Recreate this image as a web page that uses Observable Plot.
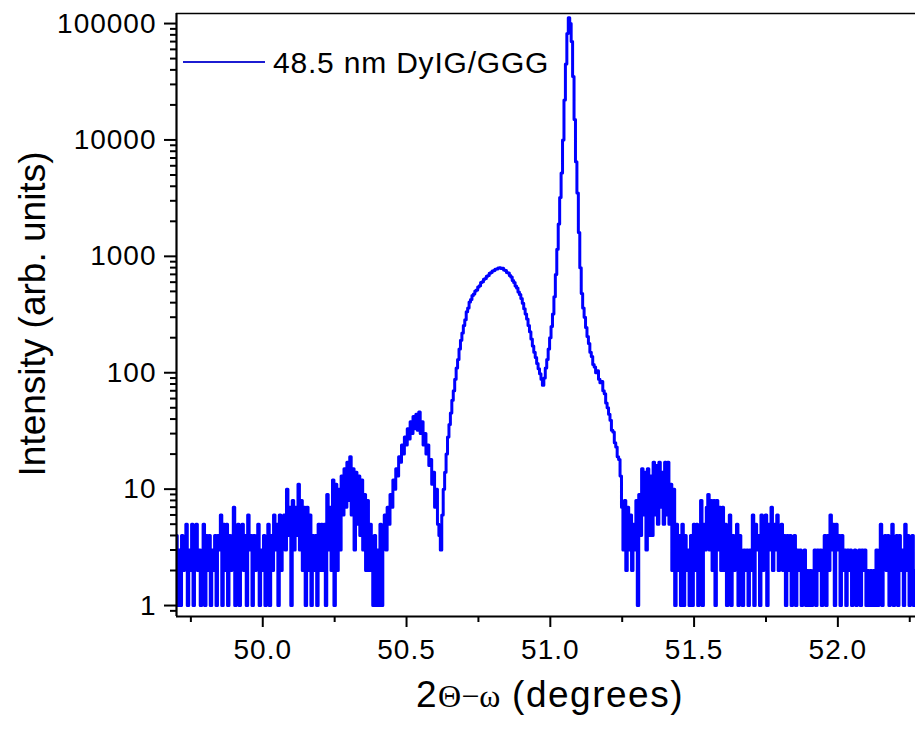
<!DOCTYPE html>
<html>
<head>
<meta charset="utf-8">
<script src="https://cdn.jsdelivr.net/npm/d3@7"></script>
<script src="https://cdn.jsdelivr.net/npm/@observablehq/plot@0.6"></script>
<style>
  html, body { margin: 0; padding: 0; background: #fff; }
</style>
</head>
<body>
<script>
// ---- scan definition (2Theta-omega, degrees) ----
const scanStart = 49.70;
const scanStep = 0.005;

const counts = [
  4,1,3,1,4,2,3,5,1,3,2,5,1,4,5,2,3,1,3,5,            // 49.70
  1,4,2,4,1,3,2,4,1,4,3,6,1,5,2,5,1,4,2,4,            // 49.80
  7,1,3,5,1,4,5,2,4,1,6,3,4,1,4,2,4,5,1,3,            // 49.90
  2,4,1,3,5,1,4,2,6,3,5,1,6,2,5,6,3,10,4,7,           // 50.00
  1,8,3,7,4,11,3,8,2,7,1,7,2,6,1,4,2,4,1,5,           // 50.10
  2,5,2,5,1,9,3,7,2,12,1,11,2,10,3,13,6,15,7,17,      // 50.20
  8,19,6,15,3,14,5,13,4,12,3,9,2,8,2,5,2,1,4,1,       // 50.30
  3,1,5,1,4,6,3,7,5,9,7,12,10,15,13,19,17,24,20,28,   // 50.40
  24,33,27,38,30,42,33,44,32,46,30,38,24,30,20,24,16,18,11,14, // 50.50
  7,10,5,4,3,6,10,14,20,28,36,45,58,70,88,110,130,160,190,220, // 50.60
  255,285,335,360,405,425,460,475,505,515,545,560,595,605,635,645,675,685,715,725, // 50.70
  750,755,775,780,795,800,785,790,765,755,725,720,685,665,620,595,555,535,495,470, // 50.80
  435,395,355,320,290,255,225,195,170,150,135,120,108,98,88,78,90,110,130,160,     // 50.90
  200,250,320,450,700,1150,1900,3200,5200,10000,22000,45000,82000,112000,100000,70000,35000,15000,6500,3500, // 51.00
  1600,800,480,360,300,245,205,178,150,138,118,112,100,104,88,82,84,70,66,55,      // 51.10
  50,44,39,32,31,25,23,19,18,13,7,3,8,2,7,3,6,2,5,3,  // 51.20
  8,1,9,4,15,6,14,3,15,4,13,4,17,6,16,5,17,7,14,5,    // 51.30
  17,6,17,5,11,2,10,1,5,2,4,1,5,1,4,2,3,1,4,1,        // 51.40
  5,2,5,1,4,8,1,5,3,7,9,3,8,2,8,1,8,3,7,2,            // 51.50
  7,2,5,1,4,6,1,4,2,4,5,1,4,3,1,3,2,3,1,3,            // 51.60
  2,6,1,5,3,4,1,6,2,5,6,1,5,3,7,2,5,3,6,2,            // 51.70
  4,5,2,4,1,4,2,4,1,3,4,1,3,2,3,1,2,3,1,2,            // 51.80
  1,2,1,2,3,1,3,2,3,1,3,4,1,4,2,6,3,5,1,5,            // 51.90
  3,4,1,4,2,3,1,3,2,3,1,2,3,1,2,3,1,3,2,3,            // 52.00
  1,2,1,2,1,2,1,3,1,3,5,1,3,4,2,4,1,3,5,1,            // 52.10
  3,4,1,4,2,3,1,5,2,4,1,2,4,1,2                       // 52.20
];

// ---- axes ----
const xDomain = [49.70, 52.27];
const yDomain = [0.805, 122000];
const xMajorTicks = [50.0, 50.5, 51.0, 51.5, 52.0];
const xMinorTicks = [49.75, 50.25, 50.75, 51.25, 51.75, 52.25];
const yMajorTicks = [1, 10, 100, 1000, 10000, 100000];
const yMinorMultipliers = [2, 3, 4, 5, 6, 7, 8, 9];
const yMinorDecades = [0.1, 1, 10, 100, 1000, 10000];

const seriesLabel = "48.5 nm DyIG/GGG";
const yTitle = "Intensity (arb. units)";

const yMinorTicks = [];
for (const d of yMinorDecades) for (const m of yMinorMultipliers) {
  const v = +(m * d).toPrecision(6);
  if (v >= yDomain[0] && v <= yDomain[1]) yMinorTicks.push(v);
}

const data = counts.map((c, i) => ({angle: +(scanStart + i * scanStep).toFixed(4), counts: c}));

const font = "'Liberation Sans', Arial, Helvetica, sans-serif";

const svgNode = Plot.plot({
  width: 915,
  height: 736,
  marginLeft: 176,
  marginRight: 0,
  marginTop: 13,
  marginBottom: 120,
  style: {fontFamily: font, background: "#ffffff", color: "#000", letterSpacing: "1px"},
  x: {domain: xDomain},
  y: {type: "log", domain: yDomain},
  marks: [
    Plot.line(data, {x: "angle", y: "counts", stroke: "#0000ff", strokeWidth: 3, curve: "step", clip: true}),
    Plot.ruleY([yDomain[1]], {stroke: "#000", strokeWidth: 1.5}),
    Plot.ruleY([yDomain[0]], {stroke: "#000", strokeWidth: 2.2}),
    Plot.ruleX([xDomain[0]], {stroke: "#000", strokeWidth: 2.2}),
    Plot.axisX(xMajorTicks, {tickSize: 11, tickPadding: 12, fontSize: 28, strokeWidth: 2, tickFormat: d3.format(".1f"), label: null}),
    Plot.axisX(xMinorTicks, {tickSize: 6, strokeWidth: 2, tickFormat: () => "", label: null}),
    Plot.axisY(yMajorTicks, {tickSize: 12, tickPadding: 8, fontSize: 28, strokeWidth: 2, tickFormat: d => String(d), label: null}),
    Plot.axisY(yMinorTicks, {tickSize: 6, strokeWidth: 2, tickFormat: () => "", label: null})
  ]
});

document.body.appendChild(svgNode);

const svg = d3.select(svgNode);

// legend
svg.append("line")
  .attr("x1", 183).attr("x2", 265).attr("y1", 62).attr("y2", 62)
  .attr("stroke", "#1c1cd2").attr("stroke-width", 2);
svg.append("text")
  .attr("x", 273).attr("y", 73)
  .attr("text-anchor", "start")
  .attr("font-family", font).attr("font-size", 30)
  .attr("letter-spacing", "0.8px")
  .attr("fill", "#000")
  .text(seriesLabel);

// y title
svg.append("text")
  .attr("transform", "translate(45,314) rotate(-90)")
  .attr("text-anchor", "middle")
  .attr("font-family", font).attr("font-size", 37)
  .attr("letter-spacing", "0px")
  .attr("fill", "#000")
  .text(yTitle);

// x title: 2Θ−ω (degrees)
const xt = svg.append("text")
  .attr("x", 550).attr("y", 707)
  .attr("text-anchor", "middle")
  .attr("font-family", font).attr("font-size", 37)
  .attr("letter-spacing", "1.5px")
  .attr("fill", "#000");
xt.append("tspan").text("2");
xt.append("tspan").attr("font-family", "'Liberation Serif', 'DejaVu Serif', serif").attr("font-size", 32).attr("letter-spacing", "0px").text("Θ−ω");
xt.append("tspan").text(" (degrees)");
</script>
</body>
</html>
